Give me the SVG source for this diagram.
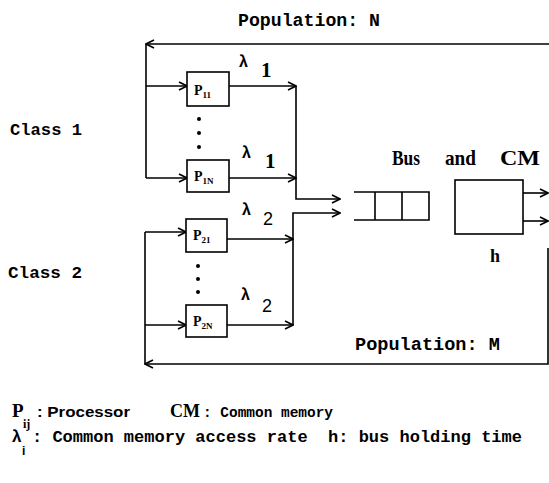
<svg xmlns="http://www.w3.org/2000/svg" width="549" height="483" viewBox="0 0 549 483">
<style>
.ln{stroke:#000;stroke-width:1.6;fill:none}
.bx{stroke:#000;stroke-width:1.6;fill:#fff}
.mono{font-family:"Liberation Mono","DejaVu Sans Mono",monospace;font-weight:bold;fill:#000}
.serif{font-family:"Liberation Serif","DejaVu Serif",serif;font-weight:bold;fill:#000}
.sans{font-family:"Liberation Sans","DejaVu Sans",sans-serif;fill:#000}
.pl{font-family:"Liberation Serif","DejaVu Serif",serif;font-weight:bold;fill:#000;font-size:14px}
.ps{font-size:9px}
</style>
<defs>
<marker id="ar" viewBox="0 0 10 10" refX="9" refY="5" markerWidth="10" markerHeight="10" markerUnits="userSpaceOnUse" orient="auto">
<path d="M1,1 L9,5 L1,9" stroke="#000" stroke-width="1.6" fill="none"/>
</marker>
</defs>
<rect width="549" height="483" fill="#fff"/>
<g id="connectors">
<path class="ln" d="M549,44 H146" marker-end="url(#ar)"/>
<path class="ln" d="M146,44 V178"/>
<path class="ln" d="M146,86 H187" marker-end="url(#ar)"/>
<path class="ln" d="M146,178 H187" marker-end="url(#ar)"/>
<path class="ln" d="M229,86 H296" marker-end="url(#ar)"/>
<path class="ln" d="M229,178 H296" marker-end="url(#ar)"/>
<path class="ln" d="M296,86 V199 H340" marker-end="url(#ar)"/>
<path class="ln" d="M145,232 V364"/>
<path class="ln" d="M145,232 H186" marker-end="url(#ar)"/>
<path class="ln" d="M145,325 H186" marker-end="url(#ar)"/>
<path class="ln" d="M227,239 H293" marker-end="url(#ar)"/>
<path class="ln" d="M227,325 H293" marker-end="url(#ar)"/>
<path class="ln" d="M293,325 V213 H340" marker-end="url(#ar)"/>
<path class="ln" d="M548,248 V364 H145" marker-end="url(#ar)"/>
<path class="ln" d="M523,193 H548" marker-end="url(#ar)"/>
<path class="ln" d="M523,221 H548" marker-end="url(#ar)"/>
</g>
<g id="P11">
<rect class="bx" x="187" y="72" width="42" height="34"/>
<text class="pl" x="194" y="95">P<tspan class="ps" dy="3">11</tspan></text>
</g>
<g id="P1N">
<rect class="bx" x="187" y="160" width="42" height="32"/>
<text class="pl" x="194" y="181">P<tspan class="ps" dy="3">1N</tspan></text>
</g>
<g id="P21">
<rect class="bx" x="186" y="219" width="41" height="33"/>
<text class="pl" x="193" y="240">P<tspan class="ps" dy="3">21</tspan></text>
</g>
<g id="P2N">
<rect class="bx" x="186" y="305" width="41" height="32"/>
<text class="pl" x="193" y="326">P<tspan class="ps" dy="3">2N</tspan></text>
</g>
<g id="dots">
<circle cx="199" cy="119" r="2"/><circle cx="199" cy="133" r="2"/><circle cx="199" cy="147" r="2"/>
<circle cx="198" cy="266" r="2"/><circle cx="198" cy="279" r="2"/><circle cx="198" cy="292" r="2"/>
</g>
<g id="queue">
<path class="ln" d="M354,192 H429 V220 H354 M375,192 V220 M402,192 V220"/>
</g>
<g id="CM">
<rect class="bx" x="455" y="180" width="68" height="54"/>
<text class="serif" x="490" y="262" font-size="18">h</text>
</g>
<g id="labels">
<text class="mono" x="238" y="26" font-size="18" textLength="142" lengthAdjust="spacingAndGlyphs">Population: N</text>
<text class="mono" x="355" y="350" font-size="18" textLength="145" lengthAdjust="spacingAndGlyphs">Population: M</text>
<text class="mono" x="10" y="135" font-size="17" textLength="72" lengthAdjust="spacingAndGlyphs">Class 1</text>
<text class="mono" x="8" y="278" font-size="17" textLength="74" lengthAdjust="spacingAndGlyphs">Class 2</text>
<text class="serif" x="392" y="165" font-size="21" textLength="28" lengthAdjust="spacingAndGlyphs">Bus</text>
<text class="serif" x="445" y="165" font-size="21" textLength="31" lengthAdjust="spacingAndGlyphs">and</text>
<text class="serif" x="500" y="165" font-size="21" textLength="40" lengthAdjust="spacingAndGlyphs">CM</text>
<text class="sans" x="239" y="67" font-size="16" font-weight="bold">λ</text>
<text class="serif" x="261" y="77" font-size="21">1</text>
<text class="sans" x="242" y="158" font-size="16" font-weight="bold">λ</text>
<text class="serif" x="265" y="168" font-size="21">1</text>
<text class="sans" x="242" y="215" font-size="16" font-weight="bold">λ</text>
<text class="sans" x="263" y="225" font-size="18">2</text>
<text class="sans" x="241" y="300" font-size="16" font-weight="bold">λ</text>
<text class="sans" x="262" y="312" font-size="18">2</text>
</g>
<g id="legend">
<text class="serif" x="12" y="417" font-size="19">P<tspan font-size="12" x="23" y="428">ij</tspan></text>
<text class="sans" x="37" y="417" font-size="15" font-weight="bold" textLength="93" lengthAdjust="spacingAndGlyphs">: Processor</text>
<text class="serif" x="170" y="417" font-size="19" textLength="30" lengthAdjust="spacingAndGlyphs">CM</text>
<text class="mono" x="203" y="417" font-size="15" textLength="130" lengthAdjust="spacingAndGlyphs">: Common memory</text>
<text class="sans" x="12" y="442" font-size="17" font-weight="bold">λ<tspan font-size="12" x="22" y="455">i</tspan></text>
<text class="mono" x="32" y="442" font-size="17" textLength="490" lengthAdjust="spacingAndGlyphs" xml:space="preserve">: Common memory access rate  h: bus holding time</text>
</g>
</svg>
